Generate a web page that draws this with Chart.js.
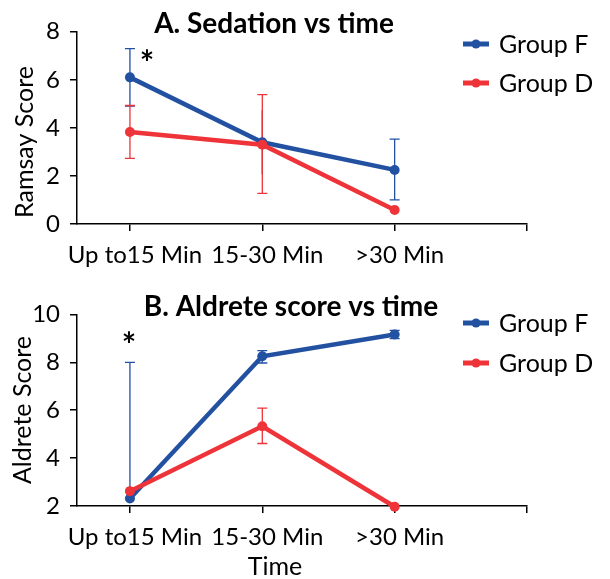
<!DOCTYPE html>
<html>
<head>
<meta charset="utf-8">
<script src="https://cdn.jsdelivr.net/npm/chart.js@4"></script>
<style>
  html, body { margin: 0; padding: 0; background: #fff; }
  .panel { position: absolute; left: 0; width: 610px; }
  #pa { top: 0; height: 290px; }
  #pb { top: 290px; height: 289px; }
</style>
</head>
<body>
<div class="panel" id="pa"><canvas id="chartA" width="610" height="290"></canvas></div>
<div class="panel" id="pb"><canvas id="chartB" width="610" height="289"></canvas></div>
<script>
// ---- Data ----
const categories = ['Up to15 Min', '15-30 Min', '>30 Min'];
const seriesNames = ['Group F', 'Group D'];

// Panel A: Sedation (Ramsay score)
const ramsayF = [6.1, 3.4, 2.25];
const ramsayFErrUp = [1.2, 1.33, 1.28];
const ramsayFErrDown = [1.2, 1.33, 1.25];
const ramsayD = [3.83, 3.3, 0.58];
const ramsayDErrUp = [1.1, 2.08, 0];
const ramsayDErrDown = [1.1, 2.03, 0];
const ramsayTicks = [0, 2, 4, 6, 8];

// Panel B: Aldrete score
const aldreteF = [2.31, 8.25, 9.16];
const aldreteFErrUp = [5.69, 0.24, 0.17];
const aldreteFErrDown = [0, 0.28, 0.17];
const aldreteD = [2.62, 5.33, 1.97];
const aldreteDErrUp = [0, 0.76, 0];
const aldreteDErrDown = [0, 0.72, 0];
const aldreteTicks = [2, 4, 6, 8, 10];

const BLUE = '#2351a1';
const RED = '#ee3339';
const FONT = 'Lato, "Open Sans", sans-serif';

const errorBarPlugin = {
  id: 'errorBars',
  beforeDatasetsDraw(chart) {
    const ctx = chart.ctx;
    const xs = chart.scales.x, ys = chart.scales.y;
    chart.data.datasets.forEach((ds) => {
      const up = ds.errUp || [], dn = ds.errDown || [];
      ctx.save();
      ctx.strokeStyle = ds.borderColor;
      ctx.lineWidth = 1.3;
      ds.data.forEach((pt, i) => {
        const eu = up[i] || 0, ed = dn[i] || 0;
        if (!eu && !ed) return;
        const x = xs.getPixelForValue(pt.x);
        const yt = ys.getPixelForValue(pt.y + eu);
        const yb = ys.getPixelForValue(pt.y - ed);
        const cap = (ds.caps && ds.caps[i] === false) ? 0 : 5;
        ctx.beginPath();
        ctx.moveTo(x, yt); ctx.lineTo(x, yb);
        if (cap) {
          if (eu) { ctx.moveTo(x - cap, yt); ctx.lineTo(x + cap, yt); }
          if (ed) { ctx.moveTo(x - cap, yb); ctx.lineTo(x + cap, yb); }
        }
        ctx.stroke();
      });
      ctx.restore();
    });
  }
};

const annotPlugin = {
  id: 'annot',
  afterDraw(chart) {
    const o = chart.options.plugins.annot;
    const ctx = chart.ctx;
    ctx.save();
    // title
    ctx.fillStyle = '#000';
    ctx.textAlign = 'center';
    ctx.textBaseline = 'middle';
    ctx.font = 'bold 28px ' + FONT;
    ctx.fillText(o.title, o.titleX, o.titleY);
    // y title
    ctx.save();
    ctx.translate(o.yTitleX, o.yTitleY);
    ctx.rotate(-Math.PI / 2);
    ctx.font = '25px ' + FONT;
    ctx.textAlign = 'center';
    ctx.textBaseline = 'middle';
    ctx.fillText(o.yTitle, 0, 0);
    ctx.restore();
    // legend
    const items = [[seriesNames[0], BLUE, o.legY[0]], [seriesNames[1], RED, o.legY[1]]];
    items.forEach(([name, col, y]) => {
      ctx.strokeStyle = col;
      ctx.lineWidth = 5;
      ctx.beginPath(); ctx.moveTo(463, y); ctx.lineTo(489, y); ctx.stroke();
      ctx.fillStyle = col;
      ctx.beginPath(); ctx.arc(476, y, 4.5, 0, Math.PI * 2); ctx.fill();
      ctx.fillStyle = '#000';
      ctx.textAlign = 'left';
      ctx.textBaseline = 'middle';
      ctx.font = '25px ' + FONT;
      ctx.fillText(name, 499, y + 1);
    });
    // asterisk
    ctx.font = 'bold 34px ' + FONT;
    ctx.textAlign = 'center';
    ctx.textBaseline = 'alphabetic';
    ctx.fillText('*', o.starX, o.starY + 20);
    // x title
    if (o.xTitle) {
      ctx.font = '25px ' + FONT;
      ctx.textBaseline = 'middle';
      ctx.fillText(o.xTitle, o.xTitleX, o.xTitleY);
    }
    ctx.restore();
  }
};

function makeChart(id, fVals, fUp, fDn, dVals, dUp, dDn, yTicks, padTop, xHeight, annot, fCaps) {
  const toPts = (arr) => arr.map((v, i) => ({ x: i, y: v }));
  return new Chart(document.getElementById(id), {
    type: 'line',
    data: {
      datasets: [
        { label: seriesNames[0], data: toPts(fVals), errUp: fUp, errDown: fDn, caps: fCaps,
          borderColor: BLUE, backgroundColor: BLUE, pointBackgroundColor: BLUE,
          borderWidth: 4.5, pointRadius: 5, pointBorderWidth: 0, order: 1, clip: false, tension: 0 },
        { label: seriesNames[1], data: toPts(dVals), errUp: dUp, errDown: dDn,
          borderColor: RED, backgroundColor: RED, pointBackgroundColor: RED,
          borderWidth: 4.5, pointRadius: 5, pointBorderWidth: 0, order: 0, clip: false, tension: 0 }
      ]
    },
    options: {
      responsive: false,
      animation: false,
      devicePixelRatio: 1,
      layout: { padding: { left: 0, top: padTop, right: 83, bottom: 0 } },
      plugins: { legend: { display: false }, tooltip: { enabled: false }, annot: annot },
      scales: {
        x: {
          type: 'linear', min: -0.4, max: 3,
          afterBuildTicks: (s) => { s.ticks = [0, 1, 2, 3].map(v => ({ value: v })); },
          afterFit: (s) => { s.height = xHeight; },
          grid: { display: true, drawOnChartArea: false, drawTicks: true, tickLength: 7, color: '#000', lineWidth: 1.5 },
          border: { display: true, color: '#000', width: 1.5 },
          ticks: {
            color: '#000', font: { family: FONT, size: 24 }, padding: 10, labelOffset: 5,
            maxRotation: 0, autoSkip: false,
            callback: (v) => (categories[v] !== undefined ? categories[v] : '')
          }
        },
        y: {
          min: yTicks[0], max: yTicks[yTicks.length - 1],
          afterBuildTicks: (s) => { s.ticks = yTicks.map(v => ({ value: v })); },
          afterFit: (s) => { s.width = 77; },
          grid: { display: true, drawOnChartArea: false, drawTicks: true, tickLength: 7, color: '#000', lineWidth: 1.5 },
          border: { display: true, color: '#000', width: 1.5 },
          ticks: { color: '#000', font: { family: FONT, size: 24 }, padding: 10 }
        }
      }
    },
    plugins: [errorBarPlugin, annotPlugin]
  });
}

makeChart('chartA', ramsayF, ramsayFErrUp, ramsayFErrDown, ramsayD, ramsayDErrUp, ramsayDErrDown, ramsayTicks, 31.7, 66,
  { title: 'A. Sedation vs time', titleX: 274, titleY: 24, legY: [44, 83], starX: 147, starY: 55,
    yTitle: 'Ramsay Score', yTitleX: 25, yTitleY: 142 },
  [true, false, true]);
makeChart('chartB', aldreteF, aldreteFErrUp, aldreteFErrDown, aldreteD, aldreteDErrUp, aldreteDErrDown, aldreteTicks, 19.7, 73,
  { title: 'B. Aldrete score vs time', titleX: 291, titleY: 17, legY: [33, 73], starX: 129, starY: 47,
    yTitle: 'Aldrete Score', yTitleX: 23, yTitleY: 120,
    xTitle: 'Time', xTitleX: 275, xTitleY: 277 },
  [true, true, true]);
</script>
</body>
</html>
